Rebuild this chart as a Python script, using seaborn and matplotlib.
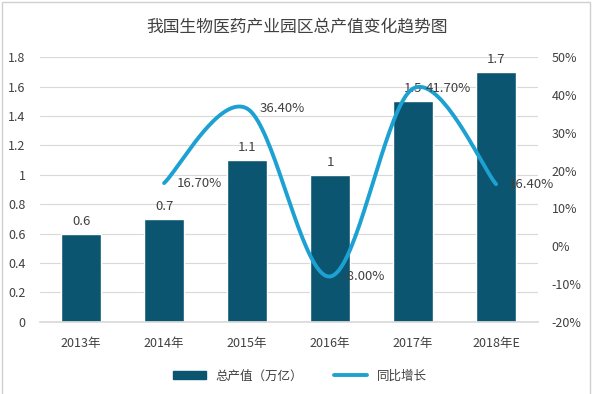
import numpy as np
import pandas as pd
import matplotlib
matplotlib.use("Agg")
import matplotlib.pyplot as plt
import seaborn as sns
from matplotlib.lines import Line2D
from matplotlib.patches import Patch

# data
years = ["2013年", "2014年", "2015年", "2016年", "2017年", "2018年E"]
output_value = [0.6, 0.7, 1.1, 1.0, 1.5, 1.7]
growth_years = ["2014年", "2015年", "2016年", "2017年", "2018年E"]
growth_rate = [16.7, 36.4, -8.0, 41.7, 16.4]
bar_labels = ["0.6", "0.7", "1.1", "1", "1.5", "1.7"]

bar_color = "#0B5570"
line_color = "#1DA1D2"
text_color = "#404040"

sns.set_theme(style="white")
plt.rcParams["font.family"] = ["Noto Sans CJK SC", "DejaVu Sans"]

fig = plt.figure(figsize=(6.0, 3.94), dpi=100)
ax = fig.add_axes([0.066, 0.183, 0.83, 0.672])

df = pd.DataFrame({"year": years, "value": output_value})
sns.barplot(data=df, x="year", y="value", color=bar_color, width=0.49,
            saturation=1, ax=ax)

ax.set_ylim(0, 1.8)
ax.set_yticks(np.arange(0, 1.81, 0.2))
ax.set_yticklabels(["0", "0.2", "0.4", "0.6", "0.8", "1", "1.2", "1.4", "1.6", "1.8"])
ax.set_xlim(-0.5, len(years) - 0.5)
ax.grid(axis="y", color="#D9D9D9", linewidth=0.8)
ax.set_axisbelow(True)
for s in ["top", "left", "right"]:
    ax.spines[s].set_visible(False)
ax.spines["bottom"].set_color("#D9D9D9")
ax.set_xlabel("")
ax.set_ylabel("")
ax.tick_params(axis="y", labelsize=9, colors=text_color, length=0, pad=10)
ax.tick_params(axis="x", labelsize=9, colors=text_color, length=0, pad=11)

for i, (v, lab) in enumerate(zip(output_value, bar_labels)):
    ax.text(i, v + 0.04, lab, ha="center", va="bottom", fontsize=9.5, color=text_color)

# secondary axis with smoothed line
ax2 = ax.twinx()
ax2.set_ylim(-20, 50)
ax2.set_yticks(range(-20, 51, 10))
ax2.set_yticklabels([f"{t}%" for t in range(-20, 51, 10)])
for s in ax2.spines.values():
    s.set_visible(False)
ax2.tick_params(axis="y", labelsize=9, colors=text_color, length=0, pad=10)
ax2.grid(False)

xs = np.array([years.index(y) for y in growth_years], dtype=float)
ys = np.array(growth_rate, dtype=float)

# Excel-like smoothing (cubic Bezier through points)
px = np.concatenate([[xs[0]], xs, [xs[-1]]])
py = np.concatenate([[ys[0]], ys, [ys[-1]]])
cx, cy = [], []
t = np.linspace(0, 1, 40)
for i in range(1, len(px) - 2):
    p0 = np.array([px[i], py[i]])
    p3 = np.array([px[i + 1], py[i + 1]])
    p1 = p0 + (np.array([px[i + 1], py[i + 1]]) - np.array([px[i - 1], py[i - 1]])) / 6
    p2 = p3 - (np.array([px[i + 2], py[i + 2]]) - np.array([px[i], py[i]])) / 6
    b = ((1 - t) ** 3)[:, None] * p0 + (3 * (1 - t) ** 2 * t)[:, None] * p1 \
        + (3 * (1 - t) * t ** 2)[:, None] * p2 + (t ** 3)[:, None] * p3
    cx.extend(b[:, 0])
    cy.extend(b[:, 1])
sns.lineplot(x=cx, y=cy, color=line_color, linewidth=2.8, sort=False, ax=ax2)

for x, y in zip(xs, ys):
    ax2.annotate(f"{y:.2f}%", (x, y), xytext=(9, 0), textcoords="offset points",
                 ha="left", va="center", fontsize=9.5, color=text_color)

fig.text(0.495, 0.931, "我国生物医药产业园区总产值变化趋势图", ha="center", va="center",
         fontsize=12.1, color=text_color)

handles = [Patch(facecolor=bar_color, edgecolor=bar_color),
           Line2D([0], [0], color=line_color, linewidth=2.8)]
fig.legend(handles, ["总产值（万亿）", "同比增长"], loc="center", bbox_to_anchor=(0.5, 0.046),
           ncol=2, frameon=False, fontsize=9, handlelength=2.6, handleheight=0.6,
           columnspacing=2.5, labelcolor=text_color)

fig.patches.append(plt.Rectangle((0.003, -0.01), 0.98, 1.005, transform=fig.transFigure,
                                 fill=False, edgecolor="#D0D0D0", linewidth=1))

fig.savefig("out.png", dpi=100)
